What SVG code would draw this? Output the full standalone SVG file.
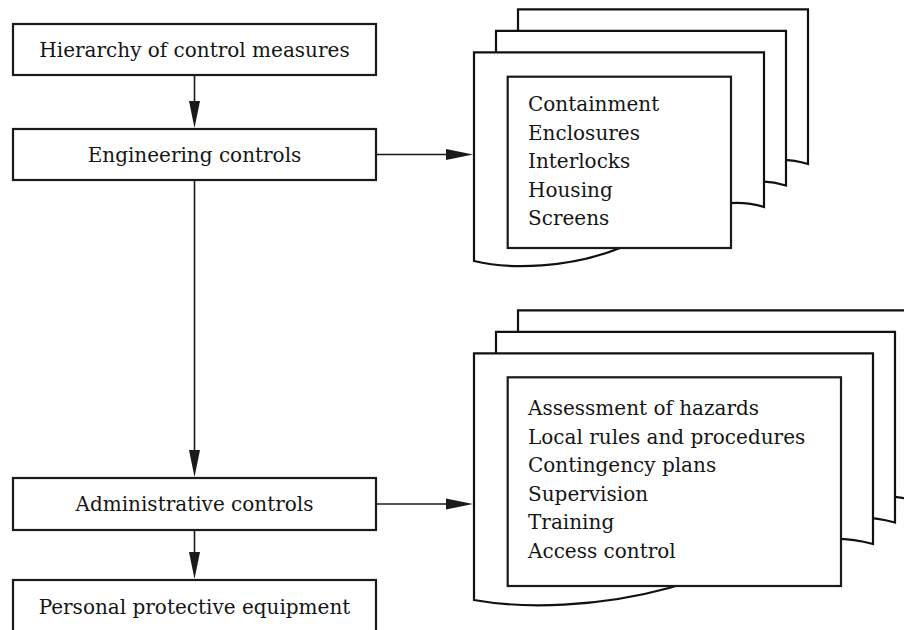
<svg xmlns="http://www.w3.org/2000/svg" xmlns:xlink="http://www.w3.org/1999/xlink" width="904" height="630" viewBox="0 0 904 630">
  <style>
    .box { fill: #ffffff; stroke: #1a1a1a; stroke-width: 2.2; }
    .sheet { fill: #ffffff; stroke: #111111; stroke-width: 2.2; stroke-linejoin: miter; }
    .lbl { font-family: "DejaVu Serif", "Liberation Serif", serif; font-size: 20px; fill: #151515; }
    .mid { text-anchor: middle; }
    .wire { fill: none; stroke: #1a1a1a; stroke-width: 1.6; marker-end: url(#ah); }
  </style>
  <defs>
    <marker id="ah" markerUnits="userSpaceOnUse" markerWidth="28" markerHeight="12" refX="18" refY="6" orient="auto">
      <path d="M0,0.5 L27,6 L0,11.5 Z" fill="#1a1a1a"/>
    </marker>
    <!-- document sheet outlines with a wavy lower edge -->
    <path id="sheetA" class="sheet" d="M0,0 H290 V154.7 C236,137.7 196,175.7 146,195.7 C96,215.7 36,217.7 0,208.7 Z"/>
    <path id="sheetB" class="sheet" d="M0,0 H399 V190.7 C330,172 285,208 195,234.7 C125,254 49.5,255.7 0,246.7 Z"/>
  </defs>

  <rect width="904" height="630" fill="#ffffff"/>

  <!-- connectors -->
  <g id="connectors">
    <line class="wire" x1="194.5" y1="75" x2="194.5" y2="119"/>
    <line class="wire" x1="194.5" y1="180" x2="194.5" y2="468"/>
    <line class="wire" x1="194.5" y1="530" x2="194.5" y2="570"/>
    <line class="wire" x1="376" y1="154.5" x2="464" y2="154.5"/>
    <line class="wire" x1="376" y1="504" x2="464" y2="504"/>
  </g>

  <!-- left column -->
  <g id="hierarchy">
    <rect class="box" x="13" y="24" width="363" height="51"/>
    <text class="lbl mid" x="194.5" y="57.3">Hierarchy of control measures</text>
  </g>
  <g id="engineering">
    <rect class="box" x="13" y="129" width="363" height="51"/>
    <text class="lbl mid" x="194.5" y="162.3">Engineering controls</text>
  </g>
  <g id="administrative">
    <rect class="box" x="13" y="478" width="363" height="52"/>
    <text class="lbl mid" x="194.5" y="510.7">Administrative controls</text>
  </g>
  <g id="ppe">
    <rect class="box" x="13" y="580" width="363" height="60"/>
    <text class="lbl mid" x="194.5" y="614">Personal protective equipment</text>
  </g>

  <!-- engineering measures stack -->
  <g id="engineering-list">
    <use xlink:href="#sheetA" href="#sheetA" transform="translate(518,9.3)"/>
    <use xlink:href="#sheetA" href="#sheetA" transform="translate(496,30.8)"/>
    <use xlink:href="#sheetA" href="#sheetA" transform="translate(474,52.3)"/>
    <rect class="box" x="507.7" y="76.7" width="223.3" height="171.3"/>
    <text class="lbl" x="528" y="111">Containment</text>
    <text class="lbl" x="528" y="139.5">Enclosures</text>
    <text class="lbl" x="528" y="168">Interlocks</text>
    <text class="lbl" x="528" y="196.5">Housing</text>
    <text class="lbl" x="528" y="225">Screens</text>
  </g>

  <!-- administrative measures stack -->
  <g id="administrative-list">
    <use xlink:href="#sheetB" href="#sheetB" transform="translate(518,310.3)"/>
    <use xlink:href="#sheetB" href="#sheetB" transform="translate(496,331.8)"/>
    <use xlink:href="#sheetB" href="#sheetB" transform="translate(474,353.3)"/>
    <rect class="box" x="507.7" y="377.3" width="333.3" height="208.7"/>
    <text class="lbl" x="528" y="415">Assessment of hazards</text>
    <text class="lbl" x="528" y="443.5">Local rules and procedures</text>
    <text class="lbl" x="528" y="472">Contingency plans</text>
    <text class="lbl" x="528" y="500.5">Supervision</text>
    <text class="lbl" x="528" y="529">Training</text>
    <text class="lbl" x="528" y="557.5">Access control</text>
  </g>
</svg>
